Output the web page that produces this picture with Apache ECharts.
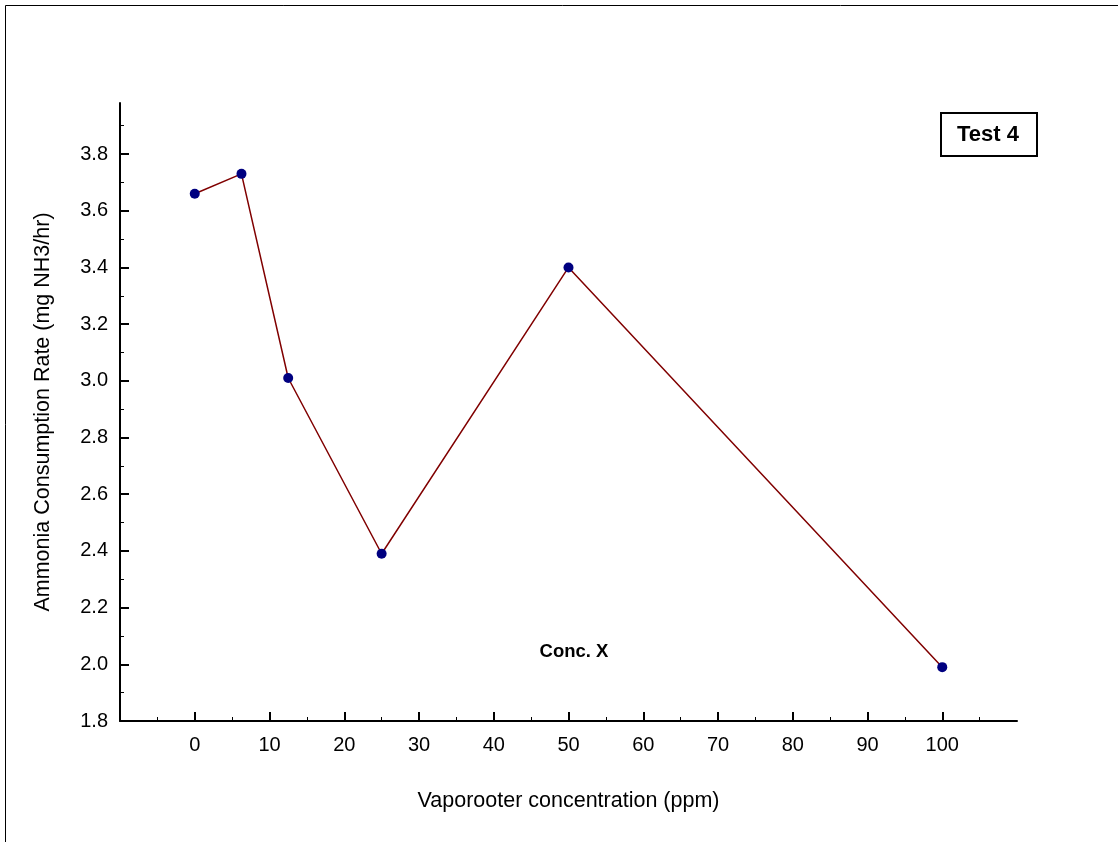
<!DOCTYPE html>
<html>
<head>
<meta charset="utf-8">
<script src="https://cdn.jsdelivr.net/npm/echarts@6/dist/echarts.min.js"></script>
<style>html,body{margin:0;padding:0;background:#fff}#c{width:1118px;height:842px}</style>
</head>
<body>
<div id="c"></div>
<script>
const concentrations = [0, 6.25, 12.5, 25, 50, 100];
const consumptionRates = [3.66, 3.73, 3.01, 2.39, 3.40, 1.99];
const xTickValues = [0, 10, 20, 30, 40, 50, 60, 70, 80, 90, 100];
const yTickValues = [1.8, 2.0, 2.2, 2.4, 2.6, 2.8, 3.0, 3.2, 3.4, 3.6, 3.8];
const xTitle = 'Vaporooter concentration (ppm)';
const yTitle = 'Ammonia Consumption Rate (mg NH3/hr)';
const legendText = 'Test 4';
const annotationText = 'Conc. X';

const font = 'Arial, "Liberation Sans", sans-serif';
const chart = echarts.init(document.getElementById('c'), null, {renderer: 'canvas'});
const pts = concentrations.map((x, i) => [x, consumptionRates[i]]);

chart.setOption({
  animation: false,
  backgroundColor: '#fff',
  grid: {left: 120, right: 101, top: 103, bottom: 121, containLabel: false},
  xAxis: {
    type: 'value', min: -10, max: 110, interval: 10,
    name: xTitle, nameLocation: 'middle', nameGap: 69,
    nameTextStyle: {fontFamily: font, fontSize: 21.5, color: '#000'},
    axisLine: {show: true, onZero: false, lineStyle: {color: '#000', width: 2}},
    axisTick: {show: true, inside: true, length: 9, customValues: xTickValues, lineStyle: {color: '#000', width: 2}},
    minorTick: {show: true, splitNumber: 2, length: 4, lineStyle: {color: '#000', width: 1}},
    splitLine: {show: false},
    axisLabel: {
      margin: 14, fontFamily: font, fontSize: 20, color: '#000',
      customValues: xTickValues,
      formatter: v => String(Math.round(v))
    }
  },
  yAxis: {
    type: 'value', min: 1.8, max: 3.98, interval: 0.2,
    name: yTitle, nameLocation: 'middle', nameGap: 66, nameRotate: 90,
    nameTextStyle: {fontFamily: font, fontSize: 21.5, color: '#000'},
    axisLine: {show: true, onZero: false, lineStyle: {color: '#000', width: 2}},
    axisTick: {show: true, inside: true, length: 9, customValues: yTickValues, lineStyle: {color: '#000', width: 2}},
    minorTick: {show: true, splitNumber: 2, length: 4, lineStyle: {color: '#000', width: 1}},
    splitLine: {show: false},
    axisLabel: {
      margin: 12, fontFamily: font, fontSize: 20, color: '#000',
      customValues: yTickValues,
      formatter: v => v.toFixed(1)
    }
  },
  series: [{
    type: 'line',
    data: pts,
    symbol: 'circle',
    symbolSize: 10,
    itemStyle: {color: '#000080'},
    lineStyle: {color: '#800000', width: 1.5},
    z: 3
  }],
  graphic: [
    {type: 'rect', shape: {x: 5.5, y: 5.5, width: 1300, height: 1000},
     style: {fill: 'none', stroke: '#000', lineWidth: 1}, silent: true, z: 0},
    {type: 'rect', shape: {x: 941, y: 113, width: 96, height: 43},
     style: {fill: '#fff', stroke: '#000', lineWidth: 2}, z: 10},
    {type: 'text', x: 988, y: 135,
     style: {text: legendText, font: 'bold 22px ' + font, fill: '#000', textAlign: 'center', textVerticalAlign: 'middle'}, z: 11},
    {type: 'text', x: 574, y: 652,
     style: {text: annotationText, font: 'bold 18.5px ' + font, fill: '#000', textAlign: 'center', textVerticalAlign: 'middle'}, z: 11}
  ]
});
</script>
</body>
</html>
